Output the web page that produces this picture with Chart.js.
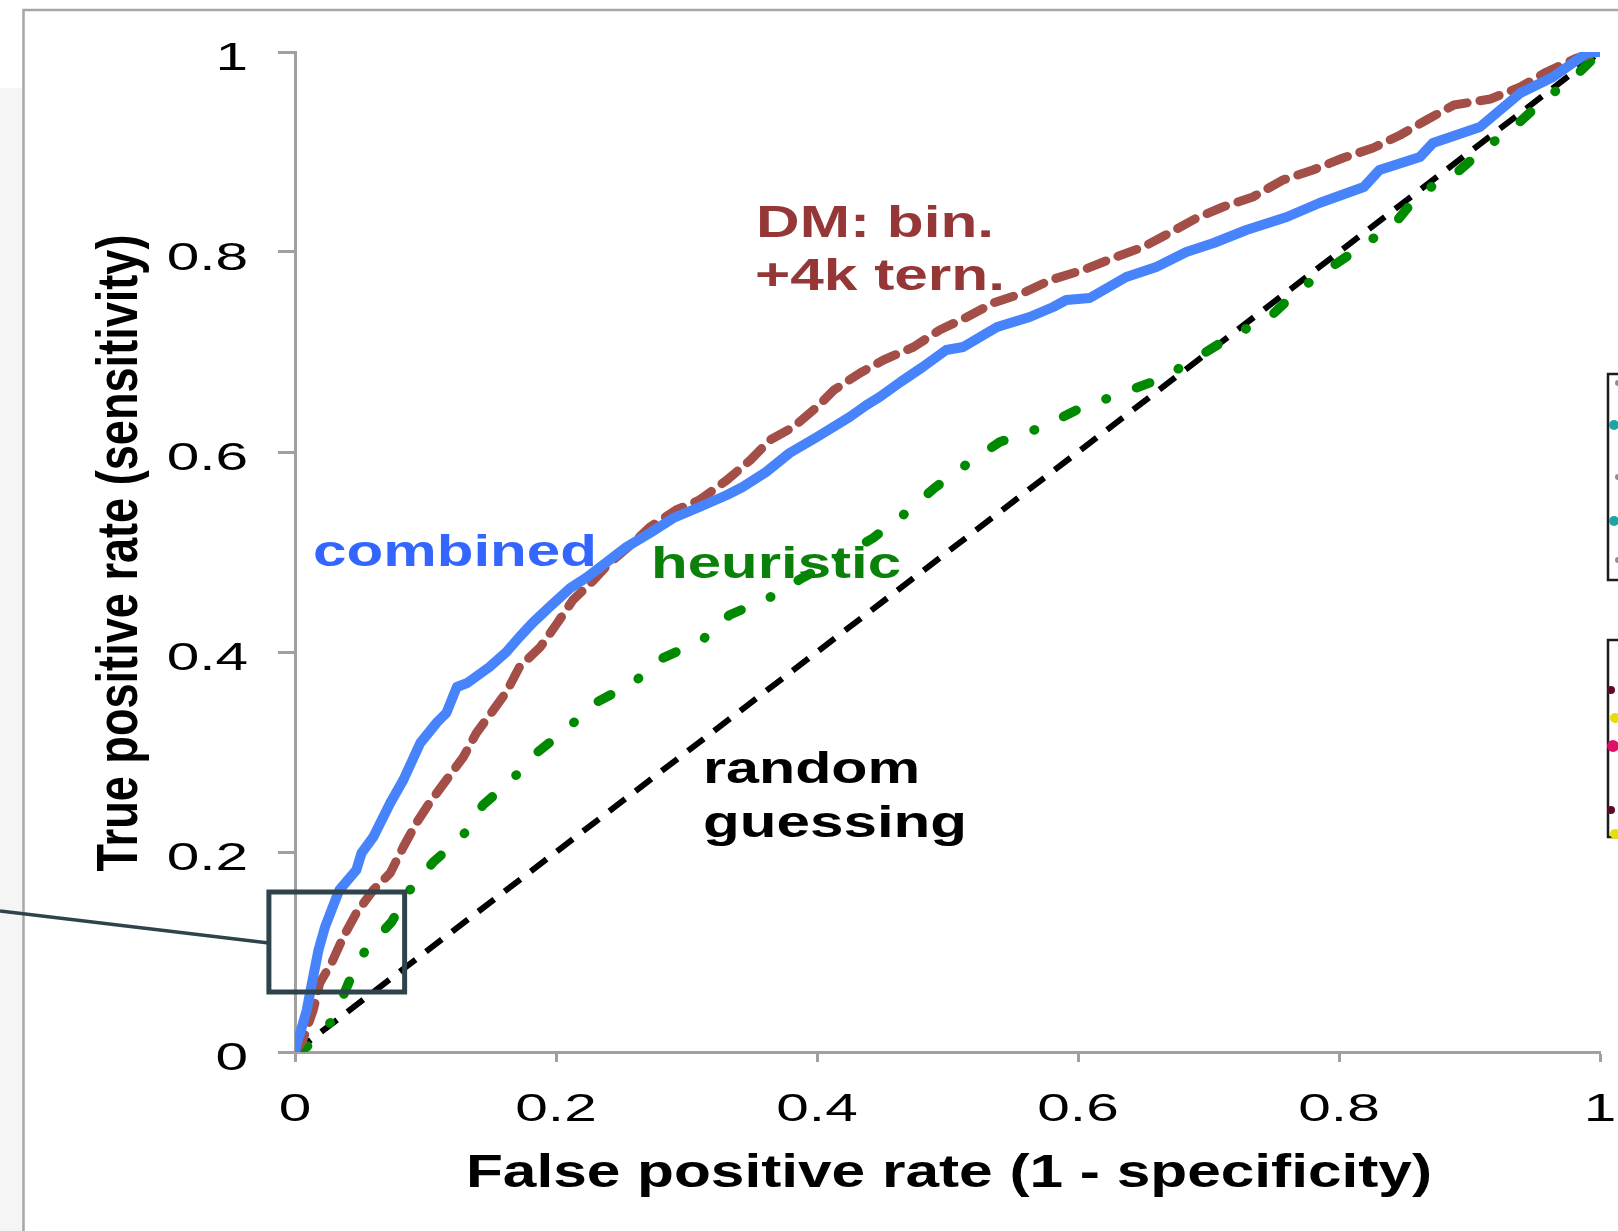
<!DOCTYPE html>
<html>
<head>
<meta charset="utf-8">
<script src="https://cdn.jsdelivr.net/npm/chart.js@4.4.1/dist/chart.umd.min.js"></script>
<style>
  html, body { margin: 0; padding: 0; background: #fff; }
  canvas { display: block; }
</style>
</head>
<body>
<canvas id="roc" width="1618" height="1231"></canvas>
<script>
/* ========================================
   DATA
======================================== */
const xTickLabels = ["0", "0.2", "0.4", "0.6", "0.8", "1"];
const yTickLabels = ["0", "0.2", "0.4", "0.6", "0.8", "1"];

// combined (solid blue)
const combinedFpr = [0, 0.002, 0.004, 0.009, 0.013, 0.018, 0.023, 0.028, 0.034, 0.047, 0.051, 0.060, 0.073, 0.083, 0.096, 0.109, 0.116, 0.124, 0.132, 0.149, 0.162, 0.172, 0.182, 0.195, 0.211, 0.224, 0.241, 0.254, 0.272, 0.290, 0.310, 0.331, 0.343, 0.361, 0.379, 0.400, 0.425, 0.438, 0.448, 0.464, 0.481, 0.499, 0.512, 0.538, 0.563, 0.581, 0.591, 0.609, 0.637, 0.660, 0.683, 0.704, 0.729, 0.760, 0.785, 0.819, 0.831, 0.862, 0.872, 0.908, 0.939, 0.964, 0.990, 1];
const combinedTpr = [0, 0.012, 0.019, 0.042, 0.069, 0.102, 0.125, 0.142, 0.162, 0.182, 0.199, 0.215, 0.249, 0.272, 0.309, 0.330, 0.339, 0.365, 0.369, 0.385, 0.400, 0.415, 0.429, 0.445, 0.464, 0.475, 0.492, 0.505, 0.519, 0.534, 0.545, 0.557, 0.565, 0.580, 0.599, 0.615, 0.635, 0.647, 0.655, 0.670, 0.685, 0.702, 0.705, 0.725, 0.735, 0.745, 0.752, 0.754, 0.775, 0.785, 0.800, 0.809, 0.822, 0.835, 0.849, 0.865, 0.882, 0.895, 0.909, 0.925, 0.959, 0.975, 0.999, 1];

// DM: bin. + 4k tern. (brown dashed)
const dmFpr = [0, 0.001, 0.006, 0.014, 0.019, 0.028, 0.037, 0.047, 0.060, 0.073, 0.083, 0.093, 0.103, 0.116, 0.129, 0.139, 0.152, 0.162, 0.172, 0.188, 0.201, 0.213, 0.229, 0.241, 0.259, 0.272, 0.292, 0.310, 0.331, 0.349, 0.364, 0.382, 0.400, 0.413, 0.433, 0.451, 0.474, 0.494, 0.515, 0.535, 0.558, 0.579, 0.604, 0.627, 0.650, 0.670, 0.691, 0.711, 0.734, 0.757, 0.780, 0.803, 0.826, 0.847, 0.867, 0.888, 0.916, 0.939, 0.959, 0.982, 1];
const dmTpr = [0, 0.002, 0.012, 0.042, 0.069, 0.089, 0.115, 0.139, 0.162, 0.179, 0.205, 0.229, 0.249, 0.272, 0.295, 0.319, 0.342, 0.360, 0.385, 0.405, 0.429, 0.452, 0.472, 0.489, 0.509, 0.525, 0.542, 0.552, 0.572, 0.592, 0.612, 0.625, 0.645, 0.662, 0.679, 0.692, 0.705, 0.722, 0.735, 0.749, 0.759, 0.772, 0.782, 0.794, 0.805, 0.819, 0.834, 0.845, 0.855, 0.872, 0.882, 0.894, 0.904, 0.917, 0.932, 0.947, 0.953, 0.965, 0.980, 0.994, 1];

// heuristic (green dash-dot)
const heurFpr = [0, 0.009, 0.029, 0.042, 0.054, 0.074, 0.088, 0.106, 0.128, 0.144, 0.166, 0.186, 0.209, 0.230, 0.259, 0.282, 0.312, 0.333, 0.363, 0.390, 0.415, 0.443, 0.469, 0.490, 0.515, 0.540, 0.573, 0.602, 0.634, 0.665, 0.692, 0.719, 0.747, 0.769, 0.793, 0.819, 0.843, 0.862, 0.889, 0.912, 0.935, 0.957, 0.982, 1];
const heurTpr = [0, 0.005, 0.032, 0.072, 0.102, 0.130, 0.162, 0.190, 0.215, 0.247, 0.272, 0.300, 0.324, 0.349, 0.369, 0.394, 0.412, 0.437, 0.454, 0.475, 0.493, 0.514, 0.540, 0.564, 0.588, 0.610, 0.625, 0.644, 0.659, 0.674, 0.695, 0.717, 0.735, 0.762, 0.784, 0.807, 0.829, 0.859, 0.878, 0.904, 0.926, 0.952, 0.977, 1];

// random guessing (black dashed diagonal)
const randomFpr = [0, 1];
const randomTpr = [0, 1];

// zoom box around the low-FPR corner (data units)
const zoomBoxX = [-0.02, 0.084];
const zoomBoxY = [0.06, 0.16];

// curve labels: text, anchor (left, baseline) in data units
const labelText = ["combined", "heuristic", "DM: bin.", "+4k tern.", "random", "guessing"];
const labelFpr = [0.0138, 0.2728, 0.3533, 0.3525, 0.3127, 0.3127];
const labelTpr = [0.486, 0.474, 0.815, 0.762, 0.269, 0.215];


/* ========================================
   HELPERS
======================================== */
function toPoints(xs, ys) {
  return xs.map((x, i) => ({ x, y: ys[i] }));
}

// text squeezed / stretched horizontally to a given width
function fitText(ctx, str, x, y, width, font, color, align, rotate) {
  ctx.save();
  ctx.font = font;
  const w = ctx.measureText(str).width;
  ctx.translate(x, y);
  if (rotate) ctx.rotate(-Math.PI / 2);
  ctx.scale(width / w, 1);
  ctx.fillStyle = color;
  ctx.textBaseline = "alphabetic";
  ctx.textAlign = align;
  ctx.fillText(str, 0, 0);
  ctx.restore();
}

const BOLD = size => `bold ${size}px "Liberation Sans", Arial, sans-serif`;
const TICK_FONT = '39px "Liberation Sans", Arial, sans-serif';
const TICK_STRETCH = 1.5;

const LABEL_STYLE = [
  { width: 284, color: "#3366ff" },
  { width: 250, color: "#0b800b" },
  { width: 238, color: "#963737" },
  { width: 250, color: "#963737" },
  { width: 217, color: "#000000" },
  { width: 264, color: "#000000" }
];


/* ========================================
   PAGE DECORATION, TICK LABELS, TITLES
======================================== */
const backdrop = {
  id: "backdrop",
  beforeDraw(chart) {
    const ctx = chart.ctx;
    ctx.save();
    ctx.fillStyle = "#ffffff";
    ctx.fillRect(0, 0, chart.width, chart.height);
    ctx.fillStyle = "#f5f5f5";
    ctx.fillRect(0, 88, 22, chart.height - 88);
    ctx.strokeStyle = "#a6a6a6";
    ctx.lineWidth = 2.5;
    ctx.beginPath();
    ctx.moveTo(23.5, chart.height);
    ctx.lineTo(23.5, 10);
    ctx.lineTo(chart.width, 10);
    ctx.stroke();
    ctx.restore();
  },
  afterDraw(chart) {
    const ctx = chart.ctx;
    const { x, y } = chart.scales;

    // tick labels (wide, like the original)
    ctx.save();
    ctx.font = TICK_FONT;
    x.ticks.forEach((t, i) => {
      const w = ctx.measureText(t.label).width * TICK_STRETCH;
      fitText(ctx, t.label, x.getPixelForTick(i), x.top + 69, w, TICK_FONT, "#000", "center");
    });
    y.ticks.forEach((t, i) => {
      const w = ctx.measureText(t.label).width * TICK_STRETCH;
      fitText(ctx, t.label, y.right - 47, y.getPixelForTick(i) + 18, w, TICK_FONT, "#000", "right");
    });
    ctx.restore();

    // axis titles
    fitText(ctx, "False positive rate (1 - specificity)", 466, 1187, 966, BOLD(46), "#000", "left");
    fitText(ctx, "True positive rate (sensitivity)", 137, 553, 637, BOLD(58), "#000", "center", true);

    // curve labels
    labelText.forEach((t, i) => {
      fitText(ctx, t, x.getPixelForValue(labelFpr[i]), y.getPixelForValue(labelTpr[i]),
        LABEL_STYLE[i].width, BOLD(45), LABEL_STYLE[i].color, "left");
    });

    // zoom box + leader line
    const bx0 = x.getPixelForValue(zoomBoxX[0]);
    const bx1 = x.getPixelForValue(zoomBoxX[1]);
    const by0 = y.getPixelForValue(zoomBoxY[1]);
    const by1 = y.getPixelForValue(zoomBoxY[0]);
    ctx.save();
    ctx.strokeStyle = "#2f444a";
    ctx.lineWidth = 5;
    ctx.strokeRect(bx0, by0, bx1 - bx0, by1 - by0);
    ctx.lineWidth = 3.5;
    ctx.beginPath();
    ctx.moveTo(0, 911);
    ctx.lineTo(bx0, 943);
    ctx.stroke();

    // fragments of the neighbouring figure at the right edge
    ctx.strokeStyle = "#1c1c1c";
    ctx.lineWidth = 2.5;
    ctx.strokeRect(1608, 374, 30, 206);
    ctx.strokeRect(1608, 640, 30, 197);
    const dots = [
      [1614, 425, 5, "#1fa3a3"], [1614, 521, 5, "#1fa3a3"],
      [1618, 383, 3, "#8c8c9c"], [1618, 477, 3, "#8c8c9c"], [1618, 560, 3, "#8c8c9c"],
      [1611, 690, 4, "#5c0a2c"], [1611, 810, 4, "#5c0a2c"],
      [1615, 718, 5, "#e6e000"], [1615, 834, 5, "#e6e000"],
      [1613, 746, 6, "#e0106a"]
    ];
    dots.forEach(([cx, cy, r, c]) => {
      ctx.fillStyle = c;
      ctx.beginPath();
      ctx.arc(cx, cy, r, 0, Math.PI * 2);
      ctx.fill();
    });
    ctx.restore();
  }
};


/* ========================================
   CHART
======================================== */
const axisGray = "#a0a0a0";

new Chart(document.getElementById("roc").getContext("2d"), {
  type: "scatter",
  data: {
    datasets: [
      {
        label: "combined",
        data: toPoints(combinedFpr, combinedTpr),
        showLine: true,
        borderColor: "#4784fb",
        borderWidth: 10,
        borderJoinStyle: "round",
        borderCapStyle: "round",
        pointRadius: 0
      },
      {
        label: "DM: bin. +4k tern.",
        data: toPoints(dmFpr, dmTpr),
        showLine: true,
        borderColor: "#a34f48",
        borderWidth: 9,
        borderDash: [20, 13],
        borderCapStyle: "round",
        borderJoinStyle: "round",
        pointRadius: 0
      },
      {
        label: "heuristic",
        data: toPoints(heurFpr, heurTpr),
        showLine: true,
        borderColor: "#008a00",
        borderWidth: 9.5,
        borderDash: [14, 32, 0.5, 32],
        borderCapStyle: "round",
        borderJoinStyle: "round",
        pointRadius: 0
      },
      {
        label: "random guessing",
        data: toPoints(randomFpr, randomTpr),
        showLine: true,
        borderColor: "#000000",
        borderWidth: 6,
        borderDash: [20, 13],
        borderCapStyle: "butt",
        pointRadius: 0
      }
    ]
  },
  options: {
    responsive: false,
    animation: false,
    devicePixelRatio: 1,
    layout: { padding: { top: 52, right: 18, left: 0, bottom: 0 } },
    plugins: {
      legend: { display: false },
      tooltip: { enabled: false }
    },
    scales: {
      x: {
        type: "linear",
        min: 0,
        max: 1,
        afterFit: s => { s.height = 179; s.paddingLeft = 0; s.paddingRight = 0; },
        border: { color: axisGray, width: 3 },
        grid: { drawOnChartArea: false, tickLength: 10, tickColor: axisGray, tickWidth: 3 },
        ticks: {
          display: false,
          stepSize: 0.2,
          callback: (v, i) => xTickLabels[i]
        }
      },
      y: {
        type: "linear",
        min: 0,
        max: 1,
        afterFit: s => { s.width = 295; s.paddingTop = 0; s.paddingBottom = 0; },
        border: { color: axisGray, width: 3 },
        grid: { drawOnChartArea: false, tickLength: 17, tickColor: axisGray, tickWidth: 3 },
        ticks: {
          display: false,
          stepSize: 0.2,
          callback: (v, i) => yTickLabels[i]
        }
      }
    }
  },
  plugins: [backdrop]
});
</script>
</body>
</html>
